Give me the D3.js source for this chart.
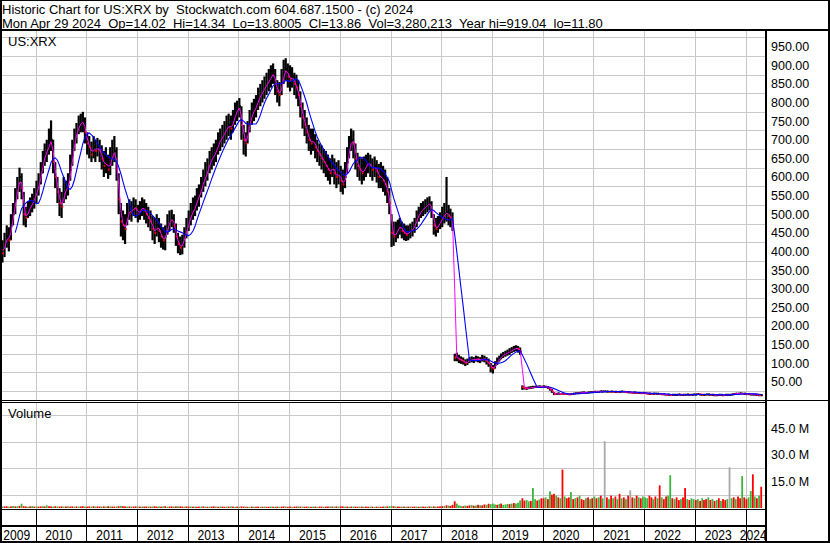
<!DOCTYPE html>
<html lang="en">
<head>
<meta charset="UTF-8">
<title>Historic Chart for US:XRX</title>
<script src="https://d3js.org/d3.v7.min.js"></script>
<style>
  body { margin: 0; background: #fff; }
  svg { display: block; font-family: Arial, "Liberation Sans", sans-serif; }
  text { white-space: pre; }
</style>
</head>
<body>
<svg id="chart" width="830" height="543"></svg>
<script>
// bars are half-month periods: first one is 16-30 Apr 2009, last one 16-30 Apr 2024
var years = [2009, 2010, 2011, 2012, 2013, 2014, 2015, 2016, 2017, 2018, 2019, 2020, 2021, 2022, 2023, 2024];
var priceTicks = [50, 100, 150, 200, 250, 300, 350, 400, 450, 500, 550, 600, 650, 700, 750, 800, 850, 900, 950];
var volTicks = [15, 30, 45];

var high = [
  440,430,450,470,465,500,530,570,600,625,610,560,520,535,545,555,570,
  590,610,640,670,690,700,730,752,700,640,600,570,560,600,590,610,660,700,730,745,765,770,775,760,
  720,710,695,710,700,705,700,685,670,680,660,680,700,710,680,610,530,510,500,530,540,535,545,540,
  525,535,545,540,530,520,510,495,490,500,490,475,465,470,500,510,512,500,475,450,440,445,465,490,
  510,530,545,550,570,580,600,620,640,650,670,680,690,700,720,730,740,750,765,770,765,780,800,805,
  812,790,740,720,750,780,800,810,820,840,850,860,870,880,890,900,905,890,860,855,890,915,919,905,
  900,895,880,875,860,830,800,780,760,740,730,730,715,700,690,685,675,670,660,650,660,650,640,645,
  630,620,640,680,710,730,725,690,665,655,650,655,660,665,660,650,655,645,635,640,630,620,600,570,
  500,480,480,485,490,480,475,470,470,475,480,490,510,520,530,535,540,545,548,535,500,490,495,505,
  520,530,600,525,515,505,125,128,122,118,115,110,112,116,118,116,120,118,116,122,120,116,112,100,
  95,105,115,120,126,130,133,136,140,143,146,148,146,142,40,37,36,37,38,39,39,39,40,39,
  40,39,38,35,30,22,20,21,19,20,19,19,18,18,19,20,21,22,22,23,22,23,23,24,
  25,24,25,26,25,26,25,25,25,25,24,24,24,25,25,24,23,23,22,22,22,21,21,21,
  21,20,19,19,19,20,19,19,18,18,17,17,16,16,16,16,17,16,16,17,17,16,17,17,
  17,18,17,16,16,17,17,16,16,15,15,16,16,15,16,16,16,17,18,19,19,20,20,19,
  18,18,17,17,17,16,15,15
];

var low = [
  375,370,385,410,400,430,470,500,540,560,540,470,465,490,495,505,515,
  530,550,580,610,630,640,660,670,610,570,530,495,490,530,540,550,590,630,670,690,715,720,720,690,
  660,650,640,650,640,655,640,620,600,610,595,605,630,640,590,500,440,430,420,470,485,480,495,490,
  478,485,495,485,475,465,455,430,420,440,425,410,405,403,445,455,465,450,415,395,390,392,410,435,
  455,470,485,495,510,520,545,560,575,590,610,620,630,640,660,670,680,690,700,710,700,720,740,750,
  760,700,660,655,690,720,740,750,760,780,790,800,810,820,830,840,850,820,800,790,820,850,860,840,
  830,840,820,810,790,760,730,710,690,670,660,670,650,640,630,620,610,600,590,580,600,580,570,580,
  560,553,570,610,650,670,650,620,600,590,580,590,600,610,600,590,600,585,570,570,560,550,530,500,
  412,415,425,435,445,435,430,428,430,435,440,450,465,480,490,495,500,505,510,490,445,440,450,460,
  465,475,480,470,465,455,105,105,100,98,96,92,95,100,102,100,104,102,100,104,102,96,90,75,
  72,85,95,104,110,114,117,120,122,127,130,132,128,122,28,29,28,30,31,32,33,33,34,33,
  34,33,31,26,20,14,15,16,15,16,16,15,15,15,16,17,18,19,19,20,19,20,21,21,
  21,22,22,22,23,23,23,22,22,22,22,21,22,22,22,21,21,20,19,19,19,19,18,18,
  18,17,17,16,16,17,17,16,16,15,14,14,13,14,14,14,15,14,14,14,15,14,14,15,
  15,15,15,14,14,15,15,14,14,13,13,14,14,13,14,14,14,15,16,17,17,18,17,17,
  16,16,15,15,15,14,13,13
];

var close = [
  410,395,420,440,430,470,500,540,570,600,570,500,490,510,520,530,545,
  560,580,610,640,660,670,690,700,640,600,560,530,520,560,565,580,620,660,700,720,740,745,750,720,
  690,680,660,680,670,680,670,650,630,640,620,640,660,670,620,540,480,470,460,500,510,505,520,515,
  500,510,520,510,500,490,480,460,450,470,455,440,430,440,470,480,490,470,440,420,410,420,440,460,
  480,500,510,520,540,550,570,590,600,620,640,650,660,670,690,700,710,720,730,740,730,750,770,780,
  790,740,700,690,720,750,770,780,790,810,820,830,840,850,860,870,880,850,830,820,850,880,890,870,
  860,870,850,840,820,790,760,740,720,700,690,700,680,670,660,650,640,630,620,610,630,610,600,610,
  590,580,600,640,680,700,690,650,630,620,610,620,630,640,630,620,630,615,600,600,590,580,560,530,
  450,440,450,460,470,455,450,445,450,455,460,470,490,500,510,515,520,525,530,510,470,460,470,480,
  490,500,505,495,490,480,115,115,110,108,105,100,103,108,110,108,112,110,108,112,110,105,100,88,
  85,95,105,112,118,122,125,128,130,135,138,140,138,132,35,33,32,33,34,35,36,36,37,36,
  37,36,34,30,24,17,17,18,17,18,17,17,16,17,18,19,19,20,21,21,20,21,22,22,
  23,23,23,24,24,24,24,23,24,23,23,22,23,24,23,22,22,21,20,21,20,20,19,20,
  19,18,18,17,18,18,18,17,16,16,15,15,14,15,15,15,16,15,15,15,16,15,15,16,
  16,17,16,15,15,16,16,15,15,14,14,15,15,14,15,15,15,16,17,18,18,19,18,18,
  17,17,16,16,16,15,14,14
];

// volume in millions
var volume = [
  0.9,0.8,0.9,1.0,0.8,0.9,1.1,0.9,1.0,1.2,2.4,1.0,0.9,0.8,0.9,1.1,0.8,
  0.9,0.8,0.9,1.0,0.9,1.5,1.0,0.9,0.8,1.0,0.9,0.8,0.9,0.8,0.9,1.0,0.8,0.9,0.8,0.9,0.8,0.9,1.0,0.8,
  0.8,0.9,0.8,1.0,0.8,0.9,0.8,0.8,0.9,0.8,1.0,0.9,0.8,0.8,0.9,1.0,1.2,1.0,0.9,0.8,0.9,0.8,0.8,0.9,
  0.8,0.8,0.9,0.8,0.8,0.9,0.8,0.9,1.0,0.8,0.9,0.8,0.9,1.0,0.8,0.8,0.9,0.8,0.9,1.0,0.9,0.8,0.8,0.9,
  0.8,0.9,0.8,0.8,0.7,0.8,0.8,0.9,0.8,0.7,0.8,0.8,0.9,0.8,0.7,0.8,0.8,0.7,0.8,0.8,0.9,0.8,0.7,0.8,
  0.7,0.9,0.8,0.8,0.7,0.7,0.8,0.7,0.7,0.8,0.7,0.7,0.8,0.7,0.7,0.8,0.7,0.8,0.8,0.7,0.8,0.9,0.8,0.7,
  0.8,0.7,0.8,0.8,0.9,0.8,0.8,0.7,0.8,0.8,0.7,0.8,0.8,0.7,0.8,0.8,0.7,0.8,0.8,0.9,0.8,0.8,0.9,0.8,
  0.9,0.9,0.8,0.8,0.7,0.8,0.8,0.8,0.7,0.8,0.8,0.7,0.8,0.7,0.8,0.8,0.7,0.8,0.8,0.7,0.8,0.8,0.9,1.0,
  1.2,1.0,0.8,0.8,0.7,0.8,0.8,0.7,0.8,0.8,0.7,0.8,0.8,0.7,0.8,0.8,0.7,0.8,0.9,0.8,0.9,0.8,0.8,0.9,
  1.0,1.2,1.5,1.3,1.2,1.8,3.8,2.5,1.5,1.2,1.0,1.4,1.2,1.5,1.6,1.3,1.4,1.8,1.6,1.5,2.0,1.8,2.4,2.2,
  2.5,2.0,1.8,2.2,2.5,1.8,2.0,2.3,2.2,2.5,2.8,2.5,3.0,4.3,5.5,4.2,4.5,3.8,4.0,11.3,5.0,4.2,4.8,5.5,
  5.5,6.0,5.0,9.4,7.5,8.0,7.0,6.0,5.5,21.7,6.5,5.5,6.0,9.0,5.0,5.5,6.0,7.0,5.0,4.5,5.5,6.0,5.0,5.5,
  6.5,5.5,6.0,7.0,5.5,37.7,6.0,5.0,7.0,5.5,6.5,5.0,8.0,5.5,6.0,5.0,7.0,10.0,6.0,5.5,7.0,6.0,5.5,6.5,
  6.0,5.5,7.0,6.0,5.0,6.5,5.5,12.8,6.0,5.0,6.5,7.0,18.5,5.5,5.0,6.0,4.5,5.0,6.0,11.3,5.0,4.5,5.5,5.0,
  4.5,5.0,4.0,5.5,4.5,5.0,6.0,4.5,5.0,4.0,4.5,5.5,4.0,5.0,4.5,5.0,23.0,5.5,6.0,5.0,6.5,5.5,18.0,6.0,
  5.0,6.0,9.6,19.0,6.5,5.5,7.0,12.0
];

// g = up (green), r = down (red), n = unchanged (grey), one letter per period, one string per year
var volDir = [
  "rgrrgrgrgrgrrgrgr",
  "grrgrgrrgrgrrgrgrrgrgrrg",
  "rrgrgrrgrgrgrrgrgrrgrgrr",
  "grgrrgrgrrgrgrgrrgrgrrgr",
  "rgrgrrgrgrgrrgrgrrgrgrgr",
  "grrgrgrgrrgrgrrgrgrgrrgr",
  "rgrrgrgrrgrgrgrrgrrgrgrg",
  "rrgrgrgrrgrgrrgrgrgrrgrg",
  "grgrrgrgrgrrgrgrrgrgrgrr",
  "rgrgrrrgggrgrrgrgrgrrgrg",
  "ggrgrgggrgrgggrrggrggrgr",
  "rgrgrrgrgrgrrgrgrgrrgrgr",
  "grgrgnrgrgrgrgrgrnrgrgrg",
  "ggrrgrgrgrrggrgrrgrrgrgg",
  "rgrgrrgrgrgrgrrgngrgrrgr",
  "rggrgrgr"
];

var svg = d3.select("#chart");
var W = 830, H = 543;
var plotL = 2, plotR = 765;
var priceTop = 31, priceBot = 400;
var volTop = 403, volBot = 509;

function periodDate(i) {
  var m = 3 + Math.floor((i + 1) / 2);
  return new Date(2009, m, i % 2 === 0 ? 23 : 8);
}

var dirs = volDir.join("");
var bars = close.map(function (c, i) {
  return {
    date: periodDate(i), hi: high[i], lo: low[i], cl: c,
    down: i > 0 && c < close[i - 1],
    vol: volume[i], dir: dirs[i] || "r"
  };
});

function sma(n) {
  var out = [];
  for (var i = n - 1; i < close.length; i++) {
    out.push({ date: bars[i].date, v: d3.mean(close.slice(i - n + 1, i + 1)) });
  }
  return out;
}

var x = d3.scaleTime()
  .domain([new Date(2010, 0, 1), new Date(2024, 0, 1)])
  .range([35.5, 745.5]);
var y = d3.scaleLinear().domain([0, 950]).range([400.3, 46.7]);
var yv = d3.scaleLinear().domain([0, 45]).range([508, 428.3]);

svg.append("rect").attr("width", W).attr("height", H).attr("fill", "#fff");

var defs = svg.append("defs");
defs.append("clipPath").attr("id", "clipPrice").append("rect")
  .attr("x", plotL).attr("y", priceTop).attr("width", plotR - plotL).attr("height", priceBot - priceTop);
defs.append("clipPath").attr("id", "clipVol").append("rect")
  .attr("x", plotL).attr("y", volTop).attr("width", plotR - plotL).attr("height", volBot - volTop);

var yearStarts = years.slice(1).map(function (yr) { return new Date(yr, 0, 1); });
var grid = svg.append("g").attr("stroke", "#c8c8c8").attr("stroke-width", 1);

// price grid sits half a step off the labels, like the original
d3.range(25, 1000, 50).forEach(function (v) {
  var yy = Math.round(y(v)) + 0.5;
  if (yy > priceTop && yy < priceBot) {
    grid.append("line").attr("x1", plotL).attr("x2", plotR).attr("y1", yy).attr("y2", yy);
  }
});
[7.5, 22.5, 37.5, 52.5].forEach(function (v) {
  var yy = Math.round(yv(v)) + 0.5;
  if (yy > volTop) grid.append("line").attr("x1", plotL).attr("x2", plotR).attr("y1", yy).attr("y2", yy);
});
yearStarts.forEach(function (d) {
  var xx = Math.round(x(d)) + 0.5;
  grid.append("line").attr("x1", xx).attr("x2", xx).attr("y1", priceTop).attr("y2", priceBot);
  grid.append("line").attr("x1", xx).attr("x2", xx).attr("y1", volTop).attr("y2", volBot);
});

// price bars
var pg = svg.append("g").attr("clip-path", "url(#clipPrice)");
pg.selectAll("rect.bar").data(bars).join("rect")
  .attr("class", "bar")
  .attr("x", function (d) { return x(d.date) - 1.1; })
  .attr("width", 2.2)
  .attr("y", function (d) { return y(d.hi); })
  .attr("height", function (d) { return Math.max(1.5, y(d.lo) - y(d.hi)); })
  .attr("fill", "#000");
pg.selectAll("rect.tick").data(bars).join("rect")
  .attr("class", "tick")
  .attr("x", function (d) { return x(d.date) - 0.2; })
  .attr("width", 1.8)
  .attr("y", function (d) { return y(d.cl) - 1; })
  .attr("height", 2)
  .attr("fill", function (d) { return d.down ? "#ff0000" : "#000"; });

var line = d3.line().x(function (d) { return x(d.date); }).y(function (d) { return y(d.v); });
pg.append("path").datum(sma(2)).attr("d", line)
  .attr("fill", "none").attr("stroke", "#ff00ff").attr("stroke-width", 1);
pg.append("path").datum(sma(8)).attr("d", line)
  .attr("fill", "none").attr("stroke", "#0000ff").attr("stroke-width", 1.1);

// volume bars
var colors = { g: "#3cb43c", r: "#ff0000", n: "#a8a8a8" };
svg.append("g").attr("clip-path", "url(#clipVol)")
  .selectAll("rect").data(bars).join("rect")
  .attr("x", function (d) { return x(d.date) - 0.9; })
  .attr("width", 1.8)
  .attr("y", function (d) { return yv(d.vol); })
  .attr("height", function (d) { return yv(0) - yv(d.vol); })
  .attr("fill", function (d) { return colors[d.dir]; });

// frame lines
var frame = svg.append("g").attr("fill", "#000");
frame.append("rect").attr("x", 0).attr("y", 0).attr("width", W).attr("height", 1);
frame.append("rect").attr("x", 0).attr("y", 0).attr("width", 2).attr("height", H);
frame.append("rect").attr("x", W - 2).attr("y", 0).attr("width", 2).attr("height", H);
frame.append("rect").attr("x", 0).attr("y", 541).attr("width", W).attr("height", 2);
frame.append("rect").attr("x", 0).attr("y", 29).attr("width", W).attr("height", 2);
frame.append("rect").attr("x", 0).attr("y", 400).attr("width", W).attr("height", 1);
frame.append("rect").attr("x", 0).attr("y", 402).attr("width", plotR).attr("height", 1);
frame.append("rect").attr("x", 0).attr("y", 509).attr("width", plotR).attr("height", 1);
frame.append("rect").attr("x", 0).attr("y", 525).attr("width", plotR).attr("height", 2);
frame.append("rect").attr("x", plotR).attr("y", 29).attr("width", 2).attr("height", H - 29);
yearStarts.forEach(function (d) {
  frame.append("rect").attr("x", Math.round(x(d))).attr("y", 509).attr("width", 1).attr("height", 32);
});

// year labels, centred in each year's slot
var bounds = [plotL].concat(yearStarts.map(x), [plotR]);
svg.append("g").selectAll("text").data(years).join("text")
  .attr("x", function (d, i) { return (bounds[i] + bounds[i + 1]) / 2 - 2 - 13.5; })
  .attr("y", 539.5)
  .attr("font-size", 14.5)
  .attr("textLength", 27)
  .attr("lengthAdjust", "spacingAndGlyphs")
  .attr("fill", "#000")
  .text(function (d) { return d; });

// right axis labels
var axisG = svg.append("g").attr("font-size", 12.5).attr("fill", "#000");
priceTicks.forEach(function (v) {
  axisG.append("text").attr("x", 771).attr("y", y(v)).attr("dy", "0.36em").text(v.toFixed(2));
});
volTicks.forEach(function (v) {
  axisG.append("text").attr("x", 771).attr("y", yv(v)).attr("dy", "0.36em").text(v.toFixed(1) + " M");
});

// header and panel titles
var head = svg.append("g").attr("font-size", 13).attr("fill", "#000");
head.append("text").attr("x", 2).attr("y", 13.5).attr("xml:space", "preserve")
  .text("Historic Chart for US:XRX by  Stockwatch.com 604.687.1500 - (c) 2024");
head.append("text").attr("x", 2).attr("y", 27.5).attr("xml:space", "preserve")
  .text("Mon Apr 29 2024  Op=14.02  Hi=14.34  Lo=13.8005  Cl=13.86  Vol=3,280,213  Year hi=919.04  lo=11.80");
head.append("text").attr("x", 8).attr("y", 46).text("US:XRX");
head.append("text").attr("x", 8).attr("y", 418).text("Volume");
</script>
</body>
</html>
